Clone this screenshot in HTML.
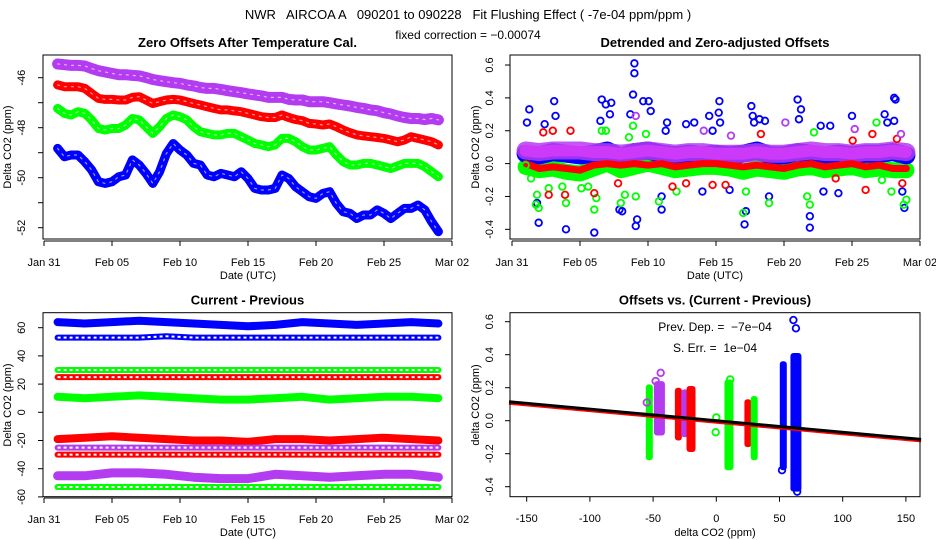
<!DOCTYPE html>
<html><head><meta charset="utf-8"><style>
body{margin:0;background:#fff}
svg{display:block;font-family:"Liberation Sans",sans-serif}
</style></head><body>
<svg id="c" width="936" height="540" viewBox="0 0 936 540">
<rect width="936" height="540" fill="#fff"/>
<text x="468" y="19" text-anchor="middle" font-size="13" style="white-space:pre">NWR   AIRCOA A   090201 to 090228   Fit Flushing Effect ( -7e-04 ppm/ppm )</text>
<text x="468" y="39" text-anchor="middle" font-size="12">fixed correction = −0.00074</text>
</svg>
<script>
// ---------- Panel 1 data (values at day 1..29, step 0.5) ----------
const p1Days = [];
for (let i = 0; i < 57; i++) p1Days.push(1 + i * 0.5);
const p1Purple = [-45.45,-45.48,-45.51,-45.51,-45.53,-45.63,-45.72,-45.77,-45.83,-45.88,-45.88,-45.91,-45.93,-45.99,-46.07,-46.12,-46.16,-46.2,-46.23,-46.29,-46.33,-46.39,-46.43,-46.43,-46.47,-46.52,-46.56,-46.6,-46.65,-46.69,-46.73,-46.79,-46.79,-46.79,-46.87,-46.89,-46.89,-46.96,-46.96,-46.96,-47.0,-47.05,-47.09,-47.13,-47.19,-47.23,-47.29,-47.32,-47.4,-47.45,-47.53,-47.59,-47.63,-47.63,-47.67,-47.63,-47.69];
const p1Red = [-46.29,-46.36,-46.36,-46.36,-46.43,-46.63,-46.83,-46.87,-46.87,-46.89,-46.89,-46.79,-46.76,-46.89,-47.03,-46.96,-46.89,-46.87,-46.89,-46.96,-47.03,-47.09,-47.16,-47.23,-47.29,-47.29,-47.33,-47.36,-47.43,-47.49,-47.56,-47.59,-47.59,-47.49,-47.59,-47.67,-47.72,-47.83,-47.85,-47.89,-47.85,-47.96,-48.09,-48.2,-48.29,-48.33,-48.36,-48.39,-48.43,-48.49,-48.56,-48.49,-48.36,-48.43,-48.49,-48.56,-48.69];
const p1Green = [-47.23,-47.43,-47.49,-47.36,-47.43,-47.69,-48.03,-48.09,-48.03,-48.03,-47.89,-47.63,-47.69,-47.96,-48.23,-47.96,-47.63,-47.49,-47.56,-47.69,-47.96,-48.16,-48.23,-48.29,-48.29,-48.23,-48.23,-48.36,-48.49,-48.63,-48.69,-48.76,-48.69,-48.43,-48.43,-48.56,-48.76,-48.89,-48.89,-48.83,-48.76,-49.09,-49.36,-49.49,-49.49,-49.43,-49.43,-49.49,-49.56,-49.63,-49.53,-49.43,-49.43,-49.43,-49.56,-49.76,-49.96];
const p1Blue = [-48.83,-49.16,-49.09,-49.09,-49.36,-49.69,-50.16,-50.23,-50.16,-49.96,-49.89,-49.29,-49.49,-49.83,-50.23,-49.76,-49.03,-48.63,-48.89,-49.09,-49.43,-49.49,-49.89,-49.96,-49.83,-49.89,-49.96,-49.76,-50.03,-50.43,-50.49,-50.49,-50.43,-49.89,-50.03,-50.36,-50.56,-50.76,-50.83,-50.63,-50.56,-51.03,-51.36,-51.43,-51.63,-51.49,-51.49,-51.29,-51.43,-51.63,-51.43,-51.23,-51.23,-51.09,-51.29,-51.76,-52.16];
const p1YTicks = [-46,-47,-48,-49,-50,-51,-52];
const p1YLabels = ["-46","","-48","","-50","","-52"];
const dateTicks = [0,5,10,15,20,25,30];
const dateLabels = ["Jan 31","Feb 05","Feb 10","Feb 15","Feb 20","Feb 25","Mar 02"];

// ---------- Panel 2 data ----------
const p2BandDays = [1,2,3,4,5,6,7,8,9,10,11,12,13,14,15,16,17,18,19,20,21,22,23,24,25,26,27,28,29];
const p2PurpleCenter = [0.08,0.07,0.08,0.08,0.08,0.07,0.07,0.06,0.07,0.08,0.07,0.06,0.07,0.07,0.06,0.06,0.06,0.07,0.06,0.06,0.07,0.08,0.07,0.07,0.06,0.07,0.07,0.08,0.07];
const p2RedCenter = [0.0,-0.03,-0.02,-0.03,-0.04,-0.01,0.0,-0.01,0.0,-0.01,0.0,-0.02,-0.01,0.0,0.0,-0.01,-0.02,-0.01,-0.02,-0.03,-0.01,0.0,-0.02,-0.01,0.0,-0.02,-0.01,-0.03,-0.03];
const p2GreenCenter = [-0.02,-0.04,-0.03,-0.05,-0.06,-0.03,0.0,-0.04,-0.02,0.0,-0.02,-0.04,-0.03,-0.02,-0.02,-0.03,-0.05,-0.03,-0.04,-0.05,-0.03,-0.02,-0.04,-0.03,-0.02,-0.04,-0.03,-0.04,-0.04];
const p2BlueCenter = [0.06,0.05,0.07,0.06,0.05,0.06,0.08,0.04,0.07,0.08,0.06,0.05,0.06,0.05,0.06,0.05,0.06,0.08,0.05,0.05,0.07,0.06,0.05,0.06,0.05,0.06,0.06,0.07,0.05];
const blueOutDays = [1.27,1.1,2.4,3.1,3.2,1.96,1.84,3.97,6.05,6.6,6.9,7.3,7.2,6.5,7.9,8.1,8.9,9.0,9.0,8.7,9.2,9.1,9.65,10.05,10.2,11.0,11.0,11.4,11.3,12.8,13.4,14.0,14.5,14.75,15.25,15.2,15.3,16.0,17.1,17.2,17.6,17.7,17.8,18.2,18.9,18.6,21.0,21.25,21.1,21.9,21.9,22.7,22.9,23.4,24.0,25.0,27.4,27.6,28.1,28.2,28.1,28.85,28.7];
const blueOutVals = [0.33,0.25,0.24,0.38,0.29,-0.36,-0.24,-0.40,-0.42,0.39,0.36,0.37,0.30,0.26,-0.28,-0.29,0.42,0.61,0.55,0.30,-0.34,-0.38,0.38,0.38,0.32,-0.20,-0.28,0.25,0.20,0.24,0.25,-0.17,0.29,0.20,0.38,0.31,0.25,-0.16,-0.37,-0.29,0.35,0.29,0.25,0.27,-0.20,0.26,0.39,0.33,0.27,-0.32,-0.39,0.23,-0.17,0.23,-0.18,0.29,0.30,0.25,0.40,0.39,0.26,-0.27,-0.17];
const greenOutDays = [1.84,1.76,1.96,2.7,3.97,3.7,6.05,6.2,6.6,6.9,8.0,8.3,8.6,8.9,9.1,9.85,10.8,12.1,17.0,17.2,18.9,21.7,21.9,22.2,26.8,27.2,27.9,28.8,29.0,1.0,1.4,5.1,5.6];
const greenOutVals = [-0.19,-0.25,-0.27,-0.15,-0.24,-0.14,-0.28,-0.21,0.20,0.20,-0.24,-0.19,0.16,0.23,-0.20,0.18,-0.23,-0.17,-0.30,-0.17,-0.24,-0.20,-0.25,0.19,0.25,-0.10,-0.17,-0.25,-0.22,-0.01,-0.09,-0.15,-0.14];
const redOutDays = [2.3,3.0,2.7,3.9,4.3,6.05,7.8,18.3,26.5,26.0,25.05,28.3,14.75,15.7,11.8,12.8,23.8,28.7];
const redOutVals = [0.19,0.20,-0.19,-0.19,0.20,-0.18,-0.12,0.18,0.18,-0.16,0.14,0.15,-0.13,-0.13,-0.14,-0.12,-0.09,-0.12];
const purpleOutDays = [9.1,20.1,25.2,14.1,16.1,28.6];
const purpleOutVals = [0.29,0.25,0.21,0.20,0.17,0.18];
const p2YTicks = [0.6,0.4,0.2,0.0,-0.2,-0.4];
const p2YLabels = ["0.6","0.4","0.2","0.0","-0.2","-0.4"];

// ---------- Panel 3 data (days 1..29 step 2) ----------
const p3Days = [1,3,5,7,9,11,13,15,17,19,21,23,25,27,29];
const p3BlueThick = [64,63,64,65,64,63,62,61,62,64,63,62,63,64,63];
const p3BlueOpen = [53,53,53,53,54,53,53,53,53,53,53,53,53,53,53];
const p3GreenOpen = [30,30,30,30,30,30,30,30,30,30,30,30,30,30,30];
const p3RedOpen = [25,25,25,25,25,25,25,25,25,25,25,25,25,25,25];
const p3GreenThick = [11,10,11,12,11,10,9,9,10,11,9,10,11,11,10];
const p3RedThick = [-19,-18,-17,-18,-19,-20,-20,-21,-19,-19,-20,-19,-18,-19,-20];
const p3PurpleOpen = [-25,-25,-25,-25,-25,-25,-25,-25,-25,-25,-25,-25,-25,-25,-25];
const p3RedOpen2 = [-30,-30,-30,-30,-30,-30,-30,-30,-30,-30,-30,-30,-30,-30,-30];
const p3PurpleThick = [-45,-45,-43,-43,-44,-46,-47,-47,-44,-45,-46,-45,-44,-44,-46];
const p3GreenOpen2 = [-53,-53,-53,-53,-53,-53,-53,-53,-53,-53,-53,-53,-53,-53,-53];
const p3YTicks = [60,40,20,0,-20,-40,-60];
const p3YLabels = ["60","40","20","0","-20","-40","-60"];

// ---------- Panel 4 data ----------
const clusterX = [-53,-45,-30,-25,-20,10,25,30,53,63];
const clusterLo = [-0.24,-0.09,-0.12,-0.10,-0.19,-0.30,-0.16,-0.24,-0.30,-0.43];
const clusterHi = [0.22,0.24,0.20,0.19,0.21,0.25,0.13,0.15,0.36,0.41];
const p4OutX = [61,63,52,64,-44,-48,-55,0,-0.5,11];
const p4OutY = [0.61,0.56,-0.30,-0.43,0.29,0.24,0.11,0.02,-0.07,0.25];
const fitSlope = -0.0007;
const fitIntercept = 0.0;
const p4XTicks = [-150,-100,-50,0,50,100,150];
const p4XLabels = ["-150","-100","-50","0","50","100","150"];

const NS = "http://www.w3.org/2000/svg";
const svg = document.getElementById("c");
const BLUE="#0000ff", RED="#ff0000", GREEN="#00ff00", PURPLE="#b43cf0";

function mk(tag, attrs, parent){
  const e = document.createElementNS(NS, tag);
  for (const k in attrs) e.setAttribute(k, attrs[k]);
  (parent||svg).appendChild(e);
  return e;
}
function txt(x,y,s,size,opts,parent){
  const t = mk("text",Object.assign({x:x,y:y,"font-size":size,"text-anchor":"middle"},opts||{}),parent);
  t.textContent = s;
  return t;
}
function poly(xs, ys, sx, sy, color, w, parent){
  const pts = xs.map((d,i)=>sx(d).toFixed(1)+","+sy(ys[i]).toFixed(1)).join(" ");
  return mk("polyline",{points:pts,fill:"none",stroke:color,"stroke-width":w,"stroke-linejoin":"round","stroke-linecap":"round"},parent);
}

function frame(g, bx, by, bw, bh, title){
  const r = mk("rect",{x:bx,y:by,width:bw,height:bh,fill:"none",stroke:"#000","stroke-width":1},g);
  
  
  const t = txt(bx+bw/2, by-8, title, 13, {"font-weight":"bold"}, g);
  
  
}
function yAxis(g, sy, ticks, labels, bx, lx, titleX, midY, title){
  ticks.forEach((v,i)=>{
    const y = sy(v);
    mk("line",{x1:bx,x2:bx-5,y1:y,y2:y,stroke:"#000"},g);
    if(labels[i]){
      const t = txt(lx, y, labels[i], 11, {transform:"rotate(-90 "+lx+" "+y+")","dominant-baseline":"middle"}, g);
      
      
    }
  });
  const t = txt(titleX, midY, title, 11, {transform:"rotate(-90 "+titleX+" "+midY+")","dominant-baseline":"middle"}, g);
  
  
}
function xAxis(g, sx, ticks, labels, ay, title, midX){
  mk("line",{x1:sx(ticks[0]),x2:sx(ticks[ticks.length-1]),y1:ay,y2:ay,stroke:"#000"},g);
  ticks.forEach((v,i)=>{
    const x = sx(v);
    mk("line",{x1:x,x2:x,y1:ay,y2:ay+5,stroke:"#000"},g);
    const t = txt(x, ay+25, labels[i], 11, {}, g);
    
    
  });
  const t = txt(midX, ay+38, title, 11, {}, g);
  
  
}

// ===== Panel 1 =====
{
  const g = mk("g",{});
  
  
  const sx = d => 44 + d*13.6;
  const sy = v => 77.7 - (v+46)*25;
  [[p1Purple,PURPLE,11,'purple-series'],[p1Red,RED,9,'red-series'],[p1Green,GREEN,9,'green-series'],[p1Blue,BLUE,9,'blue-series']].forEach(s=>{
    const l = poly(p1Days, s[0], sx, sy, s[1], s[2], g);
    
    
    const d = poly(p1Days, s[0], sx, sy, "#fff", 1.2, g);
    d.setAttribute("stroke-dasharray","2 5");
    d.setAttribute("opacity","0.6");
  });
  frame(g,43,55,409,184,"Zero Offsets After Temperature Cal.");
  yAxis(g, sy, p1YTicks, p1YLabels, 43, 22, 8, 147, "Delta CO2 (ppm)");
  xAxis(g, sx, dateTicks, dateLabels, 241, "Date (UTC)", 248);
}

// ===== Panel 2 =====
{
  const g = mk("g",{});
  
  
  const sx = d => 512 + d*13.6;
  const sy = v => 163.6 - v*164.3;
  [[p2GreenCenter,GREEN,16,'green-band'],[p2BlueCenter,BLUE,18,'blue-band'],[p2PurpleCenter,PURPLE,18,'purple-band'],[p2RedCenter,RED,7,'red-band']].forEach(s=>{
    const l = poly(p2BandDays, s[0], sx, sy, s[1], s[2], g);
    
    
    if(s[1]===PURPLE){
      l.setAttribute("opacity","0.85");
      const d = poly(p2BandDays, s[0], sx, sy, "#ff40ff", 12, g);
      d.setAttribute("stroke-dasharray","2 3");
      d.setAttribute("opacity","0.5");
    }
  });
  [[blueOutDays,blueOutVals,BLUE],[greenOutDays,greenOutVals,GREEN],[redOutDays,redOutVals,RED],[purpleOutDays,purpleOutVals,PURPLE]].forEach(s=>{
    s[0].forEach((d,i)=>{
      const c = mk("circle",{cx:sx(d),cy:sy(s[1][i]),r:3.3,fill:"none",stroke:s[2],"stroke-width":1.8},g);
      
      
    });
  });
  frame(g,510,55,410,184,"Detrended and Zero-adjusted Offsets");
  yAxis(g, sy, p2YTicks, p2YLabels, 510, 490, 476, 147, "Delta CO2 (ppm)");
  xAxis(g, sx, dateTicks, dateLabels, 241, "Date (UTC)", 715);
}

// ===== Panel 3 =====
{
  const g = mk("g",{});
  
  
  const sx = d => 44 + d*13.6;
  const sy = v => 412.3 - v*1.41;
  const series = [
    [p3BlueThick,BLUE,8,false,'blue-thick-series'],[p3BlueOpen,BLUE,6,true,'blue-open-series'],
    [p3GreenOpen,GREEN,6,true,'green-open-series'],[p3RedOpen,RED,6,true,'red-open-series'],
    [p3GreenThick,GREEN,8,false,'green-thick-series'],[p3RedThick,RED,8,false,'red-thick-series'],
    [p3PurpleOpen,PURPLE,6,true,'purple-open-series'],[p3RedOpen2,RED,6,true,'red-open-series-2'],
    [p3PurpleThick,PURPLE,9,false,'purple-thick-series'],[p3GreenOpen2,GREEN,6,true,'green-open-series-2']];
  series.forEach(s=>{
    const l = poly(p3Days, s[0], sx, sy, s[1], s[2], g);
    
    
    if(s[3]){
      const d = poly(p3Days, s[0], sx, sy, "#fff", 2, g);
      d.setAttribute("stroke-dasharray","3 3");
      d.setAttribute("stroke-linecap","butt");
    }
  });
  frame(g,43,312.7,409,184,"Current - Previous");
  yAxis(g, sy, p3YTicks, p3YLabels, 43, 22, 8, 405, "Delta CO2 (ppm)");
  xAxis(g, sx, dateTicks, dateLabels, 498, "Date (UTC)", 248);
}

// ===== Panel 4 =====
{
  const g = mk("g",{});
  
  
  const sx = v => 716.3 + v*1.264;
  const sy = v => 420.7 - v*165;
  const clusterColors = [GREEN,PURPLE,RED,PURPLE,RED,GREEN,RED,GREEN,BLUE,BLUE];
  const clusterW = [7,11,7,7,9,9,7,7,7,11];
  clusterX.forEach((x,i)=>{
    const r = mk("rect",{x:sx(x)-clusterW[i]/2,y:sy(clusterHi[i]),width:clusterW[i],height:sy(clusterLo[i])-sy(clusterHi[i]),fill:clusterColors[i],rx:3},g);
    
    
  });
  const outColors = [BLUE,BLUE,BLUE,BLUE,PURPLE,PURPLE,PURPLE,GREEN,GREEN,GREEN];
  p4OutX.forEach((x,i)=>{
    const c = mk("circle",{cx:sx(x),cy:sy(p4OutY[i]),r:3.3,fill:"none",stroke:outColors[i],"stroke-width":1.8},g);
    
    
  });
  const x0=-164, x1=162;
  const rl = mk("line",{x1:sx(x0),y1:sy(fitIntercept+fitSlope*x0)+1.5,x2:sx(x1),y2:sy(fitIntercept+fitSlope*x1)+1.5,stroke:RED,"stroke-width":3},g);
  
  
  const bl = mk("line",{x1:sx(x0),y1:sy(fitIntercept+fitSlope*x0),x2:sx(x1),y2:sy(fitIntercept+fitSlope*x1),stroke:"#000","stroke-width":3},g);
  
  
  const t1 = txt(715, 331, "Prev. Dep. =  −7e−04", 12, {style:"white-space:pre"}, g);
  
  
  const t2 = txt(715, 352, "S. Err. =  1e−04", 12, {style:"white-space:pre"}, g);
  
  
  frame(g,510,312.7,410,184,"Offsets vs. (Current - Previous)");
  yAxis(g, sy, p2YTicks, p2YLabels, 510, 490, 476, 405, "delta CO2 (ppm)");
  p4XTicks.forEach((v,i)=>{
    const x = sx(v);
    mk("line",{x1:x,x2:x,y1:496.7,y2:501.7,stroke:"#000"},g);
    const t = txt(x, 522, p4XLabels[i], 11, {}, g);
    
    
  });
  const xt = txt(715, 536, "delta CO2 (ppm)", 11, {}, g);
  
  
}
</script>
</body></html>
